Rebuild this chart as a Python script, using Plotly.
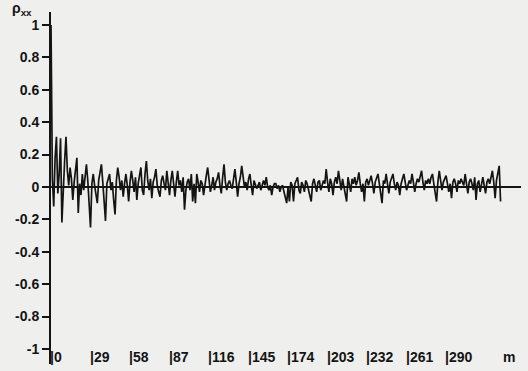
import plotly.graph_objects as go

# autocorrelation values, lag 0..330
rho = [
    1.00, 0.05, -0.12, 0.18, 0.31, -0.04, 0.08, 0.30, -0.22, 0.04,
    0.16, 0.31, 0.10, 0.01, 0.12, 0.05, -0.08, 0.03, 0.11, 0.18,
    -0.16, 0.02, -0.05, 0.08, -0.02, 0.09, 0.14, 0.04, -0.11, -0.25,
    0.02, 0.08, 0.01, -0.06, -0.10, 0.04, 0.09, 0.14, 0.03, -0.08,
    -0.21, 0.02, 0.05, 0.08, -0.02, 0.03, -0.08, -0.17, 0.04, 0.12,
    0.06, -0.02, 0.04, -0.06, 0.02, 0.08, 0.01, -0.09, 0.03, 0.10,
    0.04, -0.03, 0.06, -0.08, 0.02, 0.07, 0.12, -0.02, -0.05, 0.08,
    0.16, 0.04, -0.02, 0.05, -0.07, 0.03, 0.06, 0.11, 0.01, -0.03,
    -0.06, 0.04, 0.07, 0.02, -0.02, 0.10, 0.03, -0.05, 0.04, 0.10,
    0.02, -0.06, 0.03, 0.10, 0.01, 0.04, -0.03, 0.06, -0.14, -0.02,
    0.03, 0.05, -0.02, 0.08, -0.09, 0.02, -0.10, 0.08, 0.03, -0.03,
    0.04, 0.02, -0.05, 0.03, 0.07, 0.12, 0.02, -0.03, 0.01, 0.06,
    -0.02, 0.03, 0.05, 0.09, 0.01, -0.04, 0.06, 0.14, 0.03, -0.02,
    0.02, 0.04, 0.01, -0.01, 0.05, 0.11, 0.03, -0.06, 0.02, 0.06,
    0.13, 0.04, 0.00, 0.03, -0.02, 0.05, 0.08, 0.01, -0.05, 0.04,
    0.02, -0.01, 0.01, 0.03, -0.02, 0.02, 0.04, 0.01, 0.06, 0.00,
    -0.02, 0.01, -0.05, 0.00, 0.02, 0.02, -0.01, 0.01, -0.03, 0.00,
    0.01, -0.03, -0.06, -0.10, 0.00, -0.09, 0.03, 0.01, -0.09, 0.02,
    0.04, 0.06, -0.02, -0.04, 0.03, 0.01, -0.03, 0.04, 0.02, -0.02,
    -0.05, -0.09, 0.02, 0.05, 0.01, -0.03, 0.03, 0.04, -0.02, 0.02,
    0.04, 0.02, 0.11, 0.03, -0.03, 0.05, 0.02, -0.05, 0.03, 0.06,
    0.02, 0.10, 0.04, -0.02, 0.05, 0.01, -0.04, -0.09, 0.06, 0.02,
    -0.03, 0.05, 0.02, 0.06, 0.01, 0.04, 0.09, 0.02, -0.03, 0.02,
    -0.09, 0.03, 0.05, 0.01, 0.04, 0.07, 0.02, -0.04, 0.03, 0.05,
    0.08, 0.02, -0.03, -0.10, 0.04, 0.02, 0.08, 0.01, -0.04, 0.03,
    0.05, 0.08, 0.02, -0.02, 0.03, 0.01, -0.05, 0.02, 0.05, 0.08,
    0.03, -0.02, 0.01, 0.04, 0.02, 0.08, 0.03, -0.03, 0.02, 0.05,
    0.03, 0.06, 0.10, 0.03, -0.02, 0.04, 0.02, 0.05, 0.02, 0.06,
    0.08, 0.02, -0.04, -0.09, 0.03, 0.10, 0.04, -0.02, 0.03, 0.05,
    0.07, 0.02, -0.03, 0.02, -0.07, 0.03, 0.05, 0.02, -0.03, 0.04,
    0.02, 0.05, 0.03, 0.01, 0.08, 0.02, -0.04, 0.03, 0.05, 0.02,
    -0.02, 0.06, -0.08, 0.02, 0.04, -0.03, 0.03, 0.06, 0.01, -0.04,
    0.03, 0.05, 0.02, 0.07, 0.10, 0.03, -0.07, 0.04, 0.08, 0.13,
    -0.09,
]
lags = list(range(len(rho)))

x_tick_vals = [0, 29, 58, 87, 116, 145, 174, 203, 232, 261, 290]
x_tick_text = ["|" + str(v) for v in x_tick_vals]
y_tick_vals = [1, 0.8, 0.6, 0.4, 0.2, 0, -0.2, -0.4, -0.6, -0.8, -1]
y_tick_text = ["1", "0.8", "0.6", "0.4", "0.2", "0", "-0.2", "-0.4", "-0.6", "-0.8", "-1"]
x_unit = "m"
y_title = "ρ<sub>xx</sub>"

ink = "#141414"
bg = "#efefed"
font = dict(family="Liberation Sans, Arial, sans-serif", size=14, color=ink, weight="bold")
label_y = -1.05

fig = go.Figure()
fig.add_trace(go.Scatter(x=lags, y=rho, mode="lines",
                         line=dict(color=ink, width=1.7), showlegend=False))

annotations = [
    dict(text=t, xref="x", yref="y", x=v, y=label_y, xanchor="left", yanchor="middle",
         xshift=-3, showarrow=False, font=font)
    for v, t in zip(x_tick_vals, x_tick_text)
]
annotations += [
    dict(text=y_title, xref="paper", yref="paper", x=-0.036, y=1.0, yshift=3,
         xanchor="right", yanchor="middle", showarrow=False,
         font=dict(family="Liberation Sans, Arial, sans-serif", size=14, color=ink)),
    dict(text=x_unit, xref="x", yref="y", x=336, y=label_y,
         xanchor="center", yanchor="middle", showarrow=False, font=font),
]

fig.update_layout(
    width=528, height=371,
    margin=dict(l=51, r=7, t=12, b=7, autoexpand=False),
    paper_bgcolor=bg, plot_bgcolor=bg,
    font=font,
    xaxis=dict(range=[0, 345], showgrid=False, zeroline=False, showline=False,
               showticklabels=False, ticks="", automargin=False),
    yaxis=dict(range=[-1.093, 1.08], showgrid=False, automargin=False,
               zeroline=True, zerolinecolor=ink, zerolinewidth=1.5,
               showline=True, linecolor=ink, linewidth=2,
               tickmode="array", tickvals=y_tick_vals, ticktext=y_tick_text,
               ticks="outside", ticklen=7, tickwidth=1.5, tickcolor=ink,
               tickfont=font),
    annotations=annotations,
)

fig.write_html("out.html", config={"displayModeBar": False},
               post_script="document.body.style.margin='0';document.body.style.background='%s';" % bg)
